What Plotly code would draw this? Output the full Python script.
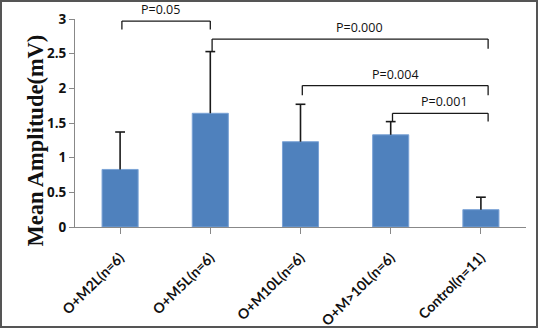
import plotly.graph_objects as go

categories = ["O+M2L(n=6)", "O+M5L(n=6)", "O+M10L(n=6)", "O+M>10L(n=6)", "Control(n=11)"]
means = [0.83, 1.64, 1.23, 1.33, 0.25]
err_upper = [0.54, 0.89, 0.54, 0.19, 0.18]

# significance brackets
br_left = [0, 1, 2, 3]
br_right = [1, 4, 4, 4]
br_height = [2.97, 2.71, 2.04, 1.64]
br_leg_left = [2.85, 2.53, 1.90, 1.52]
br_leg_right = [2.85, 2.57, 1.90, 1.52]
br_label = ["P=0.05", "P=0.000", "P=0.004", "P=0.001"]

yticks = [0, 0.5, 1, 1.5, 2, 2.5, 3]
ytick_text = ["0", "0.5", "1", "1.5", "2", "2.5", "3"]

W, H = 538, 328
ML, MR, MT, MB = 75, 12, 19, 101

xs = list(range(len(categories)))
err_top = [m + e for m, e in zip(means, err_upper)]

fig = go.Figure()
fig.add_trace(go.Bar(
    x=xs, y=means, width=0.4,
    marker=dict(color="#4F81BD", line=dict(color="#7BA3D6", width=1)),
    error_y=dict(type="data", symmetric=False, array=err_upper,
                 arrayminus=[0] * len(means), color="#1a1a1a", thickness=1.6, width=0),
))
# caps of the error bars (top only)
fig.add_trace(go.Scatter(
    x=xs, y=err_top, mode="markers", hoverinfo="skip",
    marker=dict(symbol="line-ew", size=7, line=dict(color="#1a1a1a", width=1.6)),
))

shapes = []
annotations = []
off = 0.08
label_shift = [-0.06, 0.1, 0.0, 0.05]
for l, r, h, ll, lr, lab, sh in zip(br_left, br_right, br_height, br_leg_left, br_leg_right, br_label, label_shift):
    xl = l + 0.02
    xr = r + off if r == 4 else r
    line = dict(color="#1a1a1a", width=1.3)
    shapes.append(dict(type="line", xref="x", yref="y", x0=xl, x1=xr, y0=h, y1=h, line=line))
    shapes.append(dict(type="line", xref="x", yref="y", x0=xl, x1=xl, y0=ll, y1=h, line=line))
    shapes.append(dict(type="line", xref="x", yref="y", x0=xr, x1=xr, y0=lr, y1=h, line=line))
    annotations.append(dict(x=(xl + xr) / 2 + sh, y=h, xref="x", yref="y",
                            text=lab, showarrow=False, yanchor="bottom", yshift=1,
                            font=dict(family="Open Sans", size=12.5, color="#111")))

pw = W - ML - MR
ph = H - MT - MB
shapes.append(dict(type="rect", xref="paper", yref="paper",
                   x0=(1 - ML) / pw, x1=1 + (MR - 1) / pw,
                   y0=-(MB - 1) / ph, y1=1 + (MT - 1) / ph,
                   line=dict(color="#555", width=2)))

annotations.append(dict(x=-(ML - 20) / pw, y=(H - MB - 141) / ph, xref="paper", yref="paper",
                        text="<b>Mean Amplitude(mV)</b>", textangle=-90, showarrow=False,
                        font=dict(family="Liberation Serif", size=22.5, color="#111")))

fig.update_layout(
    width=W, height=H,
    margin=dict(l=ML, r=MR, t=MT, b=MB, autoexpand=False),
    paper_bgcolor="white", plot_bgcolor="white",
    showlegend=False,
    shapes=shapes, annotations=annotations,
    xaxis=dict(range=[-0.5, 4.5], tickmode="array", tickvals=xs,
               ticktext=["<b>%s</b>" % c for c in categories], tickangle=-45,
               showline=True, linecolor="#888", linewidth=1, ticks="outside",
               tickson="boundaries", ticklen=6, tickcolor="#888", showgrid=False,
               ticklabelstandoff=10,
               tickfont=dict(family="Lato", size=14, color="#111"), zeroline=False),
    yaxis=dict(range=[0, 3], tickvals=yticks, ticktext=["<b>%s</b>" % t for t in ytick_text],
               showline=True, linecolor="#888", linewidth=1, ticks="outside", ticklen=5,
               tickcolor="#888", showgrid=False, zeroline=False,
               tickfont=dict(family="Open Sans", size=13.5, color="#111")),
)

fig.write_html("out.html", config={"displayModeBar": False},
               post_script="document.body.style.margin='0';document.body.style.overflow='hidden';")
